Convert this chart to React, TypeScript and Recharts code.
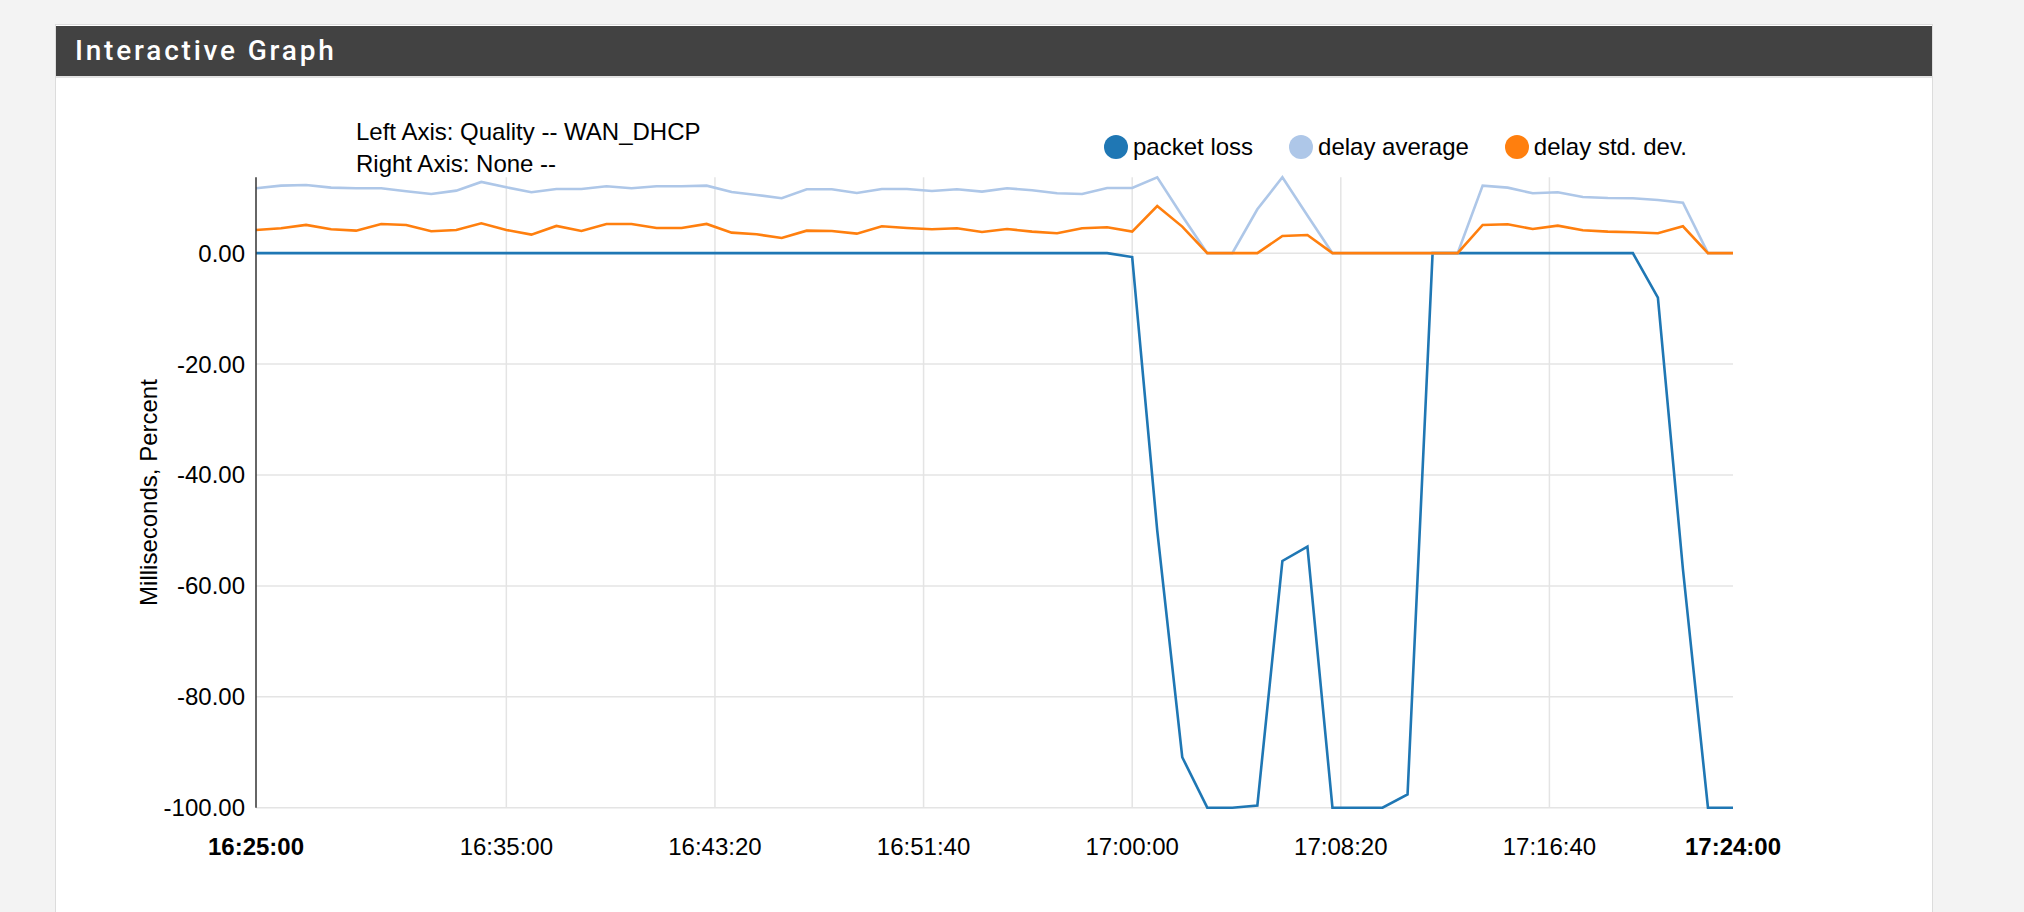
import React from 'react';
import { LineChart, Line, XAxis, YAxis, CartesianGrid, Legend } from 'recharts';

const times = [
  '16:25', '16:26', '16:27', '16:28', '16:29', '16:30', '16:31', '16:32', '16:33', '16:34',
  '16:35', '16:36', '16:37', '16:38', '16:39', '16:40', '16:41', '16:42', '16:43', '16:44',
  '16:45', '16:46', '16:47', '16:48', '16:49', '16:50', '16:51', '16:52', '16:53', '16:54',
  '16:55', '16:56', '16:57', '16:58', '16:59', '17:00', '17:01', '17:02', '17:03', '17:04',
  '17:05', '17:06', '17:07', '17:08', '17:09', '17:10', '17:11', '17:12', '17:13', '17:14',
  '17:15', '17:16', '17:17', '17:18', '17:19', '17:20', '17:21', '17:22', '17:23', '17:24',
];

const packetLoss = [
  0, 0, 0, 0, 0, 0, 0, 0, 0, 0,
  0, 0, 0, 0, 0, 0, 0, 0, 0, 0,
  0, 0, 0, 0, 0, 0, 0, 0, 0, 0,
  0, 0, 0, 0, 0, -0.7, -50, -90.9, -100, -100,
  -99.6, -55.5, -52.9, -100, -100, -100, -97.6, 0, 0, 0,
  0, 0, 0, 0, 0, 0, -8, -57, -100, -100,
];

const delayAverage = [
  11.7, 12.18, 12.3, 11.82, 11.7, 11.7, 11.16, 10.68, 11.28, 12.84,
  11.88, 10.98, 11.58, 11.58, 12.06, 11.7, 12.06, 12.06, 12.18, 11.04,
  10.5, 9.9, 11.52, 11.52, 10.86, 11.58, 11.58, 11.22, 11.52, 11.1,
  11.7, 11.34, 10.8, 10.68, 11.76, 11.76, 13.68, 6.7, 0, 0,
  7.91, 13.68, 6.8, 0, 0, 0, 0, 0, 0, 12.18,
  11.82, 10.8, 10.98, 10.14, 9.95, 9.9, 9.59, 9.11, 0, 0,
];

const delayStdDev = [
  4.18, 4.48, 5.09, 4.3, 4.06, 5.27, 5.09, 3.94, 4.18, 5.39,
  4.18, 3.34, 4.91, 4.0, 5.27, 5.27, 4.54, 4.54, 5.27, 3.7,
  3.4, 2.74, 4.06, 4.0, 3.52, 4.85, 4.54, 4.3, 4.48, 3.82,
  4.36, 3.88, 3.58, 4.48, 4.66, 3.88, 8.51, 4.79, 0, 0,
  0, 3.1, 3.28, 0, 0, 0, 0, 0, 0, 5.09,
  5.21, 4.36, 4.97, 4.12, 3.88, 3.76, 3.58, 4.85, 0, 0,
];

const xTickLabels = ['16:25:00', '16:35:00', '16:43:20', '16:51:40', '17:00:00', '17:08:20', '17:16:40', '17:24:00'];
const gridTickLabels = ['16:35:00', '16:43:20', '16:51:40', '17:00:00', '17:08:20', '17:16:40'];
const boldTickLabels = ['16:25:00', '17:24:00'];
const yTicks = [0, -20, -40, -60, -80, -100];

const seriesNames = ['packet loss', 'delay average', 'delay std. dev.'];
const seriesColors = ['#1f77b4', '#aec7e8', '#ff7f0e'];

const toSec = (s: string) => {
  const p = s.split(':').map(Number);
  return p[0] * 3600 + p[1] * 60 + (p[2] || 0);
};
const pad = (n: number) => (n < 10 ? '0' + n : '' + n);
const fmt = (v: number) => {
  const h = Math.floor(v / 3600);
  const m = Math.floor((v % 3600) / 60);
  const s = Math.round(v % 60);
  return `${pad(h)}:${pad(m)}:${pad(s)}`;
};

const data = times.map((t, i) => ({
  t: toSec(t),
  packetLoss: packetLoss[i],
  delayAverage: delayAverage[i],
  delayStdDev: delayStdDev[i],
}));

const FONT = '"Liberation Sans", Arial, Helvetica, sans-serif';
const xDomain = [toSec(times[0]), toSec(times[times.length - 1])];
const yMax = Math.max(...delayAverage, ...delayStdDev, ...packetLoss);

const XTick = (props: any) => {
  const { x, y, payload } = props;
  const label = fmt(payload.value);
  const bold = boldTickLabels.includes(label);
  return (
    <text x={x} y={y} dy="0.71em" textAnchor="middle" fontSize={24} fontFamily={FONT} fill="#000" fontWeight={bold ? 'bold' : 'normal'}>
      {label}
    </text>
  );
};

const LegendContent = (props: any) => {
  const payload = [...(props.payload || [])].sort(
    (a: any, b: any) => seriesNames.indexOf(a.value) - seriesNames.indexOf(b.value)
  );
  return (
    <div style={{ display: 'flex', alignItems: 'center', fontFamily: FONT, fontSize: 24, color: '#000', whiteSpace: 'nowrap' }}>
      {payload.map((p: any, i: number) => (
        <div key={i} style={{ display: 'flex', alignItems: 'center', marginRight: 36 }}>
          <span style={{ display: 'inline-block', width: 24, height: 24, borderRadius: 12, background: p.color, marginRight: 5 }} />
          <span>{p.value}</span>
        </div>
      ))}
    </div>
  );
};

export default function App() {
  return (
    <div style={{ position: 'absolute', left: 0, top: 0, width: 2024, height: 912, background: '#f3f3f3', overflow: 'hidden' }}>
      <div style={{ position: 'absolute', left: 55, top: 24, width: 1876, height: 900, background: '#fff', border: '1px solid #dcdcdc' }} />
      <div style={{ position: 'absolute', left: 56, top: 26, width: 1876, height: 50, background: '#424242', borderBottom: '2px solid #e3e3e3' }}>
        <div style={{ position: 'absolute', left: 19, top: 0, height: 50, lineHeight: '50px', color: '#fff', fontFamily: 'Roboto, "Liberation Sans", sans-serif', fontWeight: 500, fontSize: 28, letterSpacing: 2.8 }}>
          Interactive Graph
        </div>
      </div>
      <div style={{ position: 'absolute', left: 356, top: 116, fontFamily: FONT, fontSize: 24, lineHeight: '32px', color: '#000' }}>
        <div>Left Axis: Quality -- WAN_DHCP</div>
        <div>Right Axis: None --</div>
      </div>
      <div style={{ position: 'absolute', left: 0, top: 0 }}>
        <LineChart
          width={2024}
          height={912}
          data={data}
          margin={{ top: 177.3, right: 291, bottom: 44.3, left: 41 }}
        >
          <CartesianGrid xAxisId="grid" syncWithTicks stroke="#e4e4e4" strokeWidth={1.5} vertical={true} horizontal={true} />
          <XAxis
            dataKey="t"
            type="number"
            domain={xDomain}
            ticks={xTickLabels.map(toSec)}
            interval={0}
            axisLine={false}
            tickLine={false}
            tickSize={0}
            tickMargin={30}
            height={60}
            tick={<XTick />}
          />
          <XAxis
            xAxisId="grid"
            dataKey="t"
            type="number"
            domain={xDomain}
            ticks={gridTickLabels.map(toSec)}
            interval={0}
            hide
          />
          <YAxis
            type="number"
            domain={[-100, yMax]}
            ticks={yTicks}
            interval={0}
            width={215}
            tickLine={false}
            tickSize={0}
            tickMargin={11}
            axisLine={{ stroke: '#333', strokeWidth: 1.5 }}
            tickFormatter={(v: number) => v.toFixed(2)}
            tick={{ fontSize: 24, fontFamily: FONT, fill: '#000' }}
            label={{ value: 'Milliseconds, Percent', angle: -90, position: 'center', style: { fontSize: 24, fontFamily: FONT, fill: '#000' } }}
          />
          <Legend
            layout="horizontal"
            verticalAlign="middle"
            align="center"
            content={<LegendContent />}
            wrapperStyle={{ position: 'absolute', left: 1104, top: 133, width: 700 }}
          />
          <Line type="linear" dataKey="packetLoss" name={seriesNames[0]} stroke={seriesColors[0]} strokeWidth={2.6} dot={false} isAnimationActive={false} />
          <Line type="linear" dataKey="delayAverage" name={seriesNames[1]} stroke={seriesColors[1]} strokeWidth={2.6} dot={false} isAnimationActive={false} />
          <Line type="linear" dataKey="delayStdDev" name={seriesNames[2]} stroke={seriesColors[2]} strokeWidth={2.6} dot={false} isAnimationActive={false} />
        </LineChart>
      </div>
    </div>
  );
}
